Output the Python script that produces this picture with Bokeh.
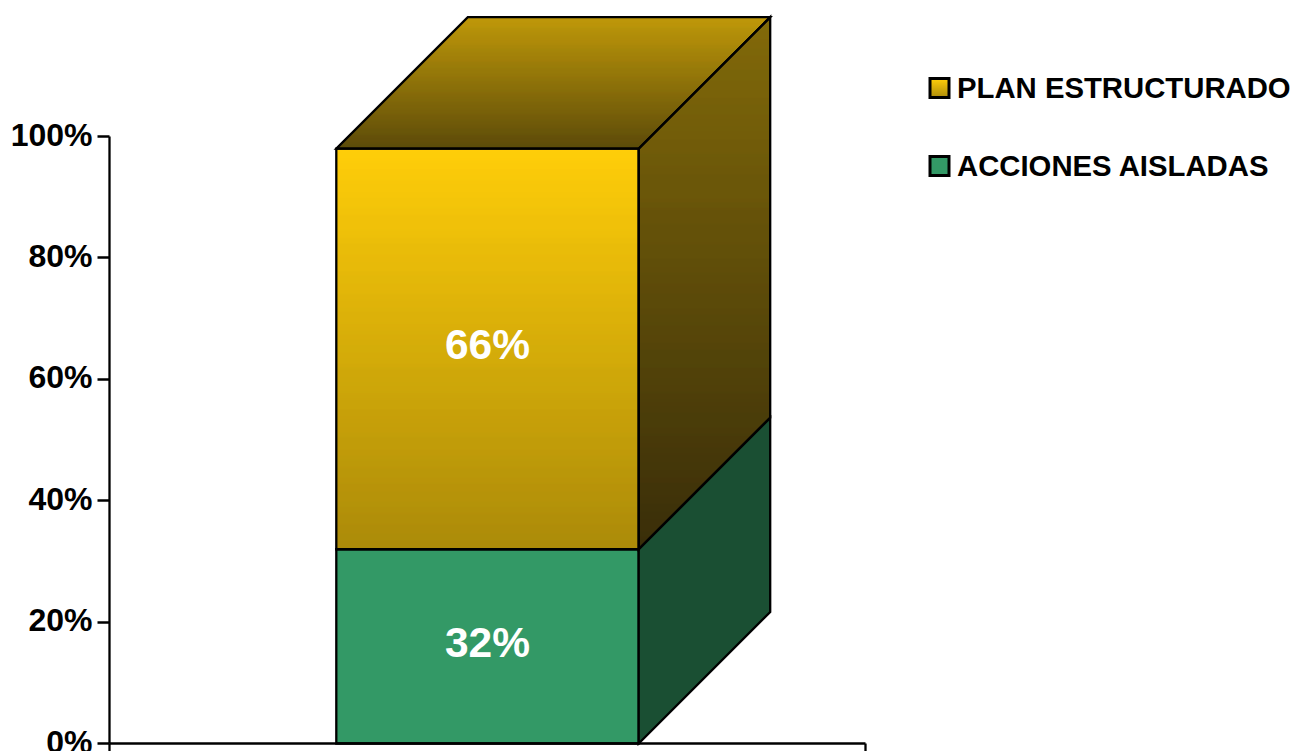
from bokeh.core.properties import value
from bokeh.embed import file_html
from bokeh.models import FixedTicker, LinearAxis, Range1d
from bokeh.plotting import figure
from bokeh.resources import INLINE

# Chart data
series_names = ["PLAN ESTRUCTURADO", "ACCIONES AISLADAS"]
green_share = 32
gold_share = 66
y_ticks = [0, 20, 40, 60, 80, 100]

FONT = "Liberation Sans"
W, H = 1294, 751
ORIGIN_X, ORIGIN_Y = 109.0, 743.0   # where the axes cross, in page pixels
PX_PER_CAT = 756.0                  # width of the single category
PX_PER_PCT = 6.07                   # height of one percentage point
DEPTH_PX = 131.5                    # oblique offset of the back faces
EDGE = 2.3


def to_x(px):
    return (px - ORIGIN_X) / PX_PER_CAT


def to_y(py):
    return (ORIGIN_Y - py) / PX_PER_PCT


def mix(a, b, t):
    t = max(0.0, min(1.0, t))
    return "#%02x%02x%02x" % tuple(round(a[i] + (b[i] - a[i]) * t) for i in range(3))


# The frame fills the page; both axes are pinned inside it at the origin so the
# tick labels can sit in the margin and run up to the page edge.
p = figure(
    width=W, height=H, frame_width=W, frame_height=H,
    min_border_left=0, min_border_right=0, min_border_top=0, min_border_bottom=0,
    x_range=Range1d(to_x(0), to_x(W)), y_range=Range1d(to_y(H), to_y(0)),
    x_axis_location=None, y_axis_location=None,
    output_backend="svg", toolbar_location=None, background_fill_color="white",
    border_fill_color="white", outline_line_color=None,
)
p.grid.visible = False

# Stack geometry
bar_l, bar_r = 0.3, 0.7
dx = DEPTH_PX / PX_PER_CAT
dy = DEPTH_PX / PX_PER_PCT
top = green_share + gold_share
step = 1 / PX_PER_PCT

OUTLINE = dict(line_color="black", line_width=EDGE, line_join="miter", fill_color=None)


def bands(y_lo, y_hi, x_left, x_right, color_at):
    """Fill a region one pixel row at a time so its colour can run top to bottom."""
    xs, ys, colors = [], [], []
    y = y_lo
    while y < y_hi - 1e-9:
        y2 = min(y + step, y_hi)
        xs.append([x_left(y), x_right(y), x_right(y2), x_left(y2)])
        ys.append([y, y, y2, y2])
        colors.append(color_at((y + y2) / 2))
        y = y2
    p.patches(xs, ys, fill_color=colors, line_color=colors, line_width=0.6)


# Gold segment: front face
GOLD_TOP, GOLD_BOT = (255, 204, 0), (168, 134, 0)
bands(green_share, top, lambda y: bar_l, lambda y: bar_r,
      lambda y: mix(GOLD_TOP, GOLD_BOT, (top - y) / gold_share))

# Gold segment: right face
SIDE_TOP, SIDE_BOT = (126, 101, 0), (50, 38, 0)
side_hi = top + dy
side_lo = green_share
bands(side_lo, side_hi,
      lambda y: bar_r + max(0.0, (y - top) / dy) * dx,
      lambda y: bar_r + min(1.0, (y - green_share) / dy) * dx,
      lambda y: mix(SIDE_TOP, SIDE_BOT, (side_hi - y) / (side_hi - side_lo)))

# Gold segment: top face
ROOF_BACK, ROOF_FRONT = (190, 150, 0), (88, 70, 0)
bands(top, top + dy,
      lambda y: bar_l + (y - top) / dy * dx,
      lambda y: bar_r + (y - top) / dy * dx,
      lambda y: mix(ROOF_BACK, ROOF_FRONT, (top + dy - y) / dy))

# Green segment
p.patch([bar_l, bar_r, bar_r, bar_l], [0, 0, green_share, green_share],
        fill_color="#339966", line_color="black", line_width=EDGE, line_join="miter")
p.patch([bar_r, bar_r + dx, bar_r + dx, bar_r], [0, dy, green_share + dy, green_share],
        fill_color="#1a4f33", line_color="black", line_width=EDGE, line_join="miter")

# Gold outlines on top of the colour rows
p.patch([bar_l, bar_r, bar_r, bar_l], [green_share, green_share, top, top], **OUTLINE)
p.patch([bar_r, bar_r + dx, bar_r + dx, bar_r],
        [green_share, green_share + dy, top + dy, top], **OUTLINE)
p.patch([bar_l, bar_r, bar_r + dx, bar_l + dx], [top, top, top + dy, top + dy], **OUTLINE)

# Value labels
mid = (bar_l + bar_r) / 2
p.text([mid, mid], [green_share / 2, green_share + gold_share / 2],
       text=[f"{green_share}%", f"{gold_share}%"],
       text_color="white", text_font=value(FONT), text_font_style="bold",
       text_font_size="42.5px", text_align="center", text_baseline="middle", y_offset=-4)

# Axes: tick marks only, pinned at the origin
y_axis = LinearAxis(
    fixed_location=0, bounds=(0, 100), ticker=FixedTicker(ticks=y_ticks),
    major_label_overrides={t: "" for t in y_ticks}, major_label_text_font_size="0px",
    major_tick_out=12, major_tick_in=0, minor_tick_line_color=None,
    axis_line_color="black", axis_line_width=EDGE,
    major_tick_line_color="black", major_tick_line_width=EDGE,
)
p.add_layout(y_axis, "left")

x_axis = LinearAxis(
    fixed_location=0, bounds=(0, 1), ticker=FixedTicker(ticks=[0, 1]),
    major_label_overrides={0: "", 1: ""}, major_label_text_font_size="0px",
    major_tick_out=8, major_tick_in=0, minor_tick_line_color=None,
    axis_line_color="black", axis_line_width=EDGE,
    major_tick_line_color="black", major_tick_line_width=EDGE,
)
p.add_layout(x_axis, "below")

# Percentage labels beside the y ticks
p.text([0] * len(y_ticks), y_ticks, text=[f"{t}%" for t in y_ticks],
       x_offset=-17, y_offset=-2, text_color="black", text_font=value(FONT),
       text_font_style="bold", text_font_size="32px",
       text_align="right", text_baseline="middle")

# Legend, built by hand so its first swatch can carry the gold gradient
for name, cy, gradient in zip(series_names, [87.5, 165.5], [True, False]):
    sx0, sx1 = to_x(929.5), to_x(948.5)
    sy0, sy1 = to_y(cy + 9.5), to_y(cy - 9.5)
    if gradient:
        bands(sy0, sy1, lambda y: sx0, lambda y: sx1,
              lambda y: mix(GOLD_TOP, GOLD_BOT, (sy1 - y) / (sy1 - sy0)))
        p.patch([sx0, sx1, sx1, sx0], [sy0, sy0, sy1, sy1], line_color="black",
                line_width=3, line_join="miter", fill_color=None)
    else:
        p.patch([sx0, sx1, sx1, sx0], [sy0, sy0, sy1, sy1], line_color="black",
                line_width=3, line_join="miter", fill_color="#339966")
    p.text([to_x(956.5)], [to_y(cy - 0.5)], text=[name], text_color="black",
           text_font=value(FONT), text_font_style="bold", text_font_size="29.3px",
           text_align="left", text_baseline="middle")

open("out.html", "w").write(file_html(p, INLINE))
